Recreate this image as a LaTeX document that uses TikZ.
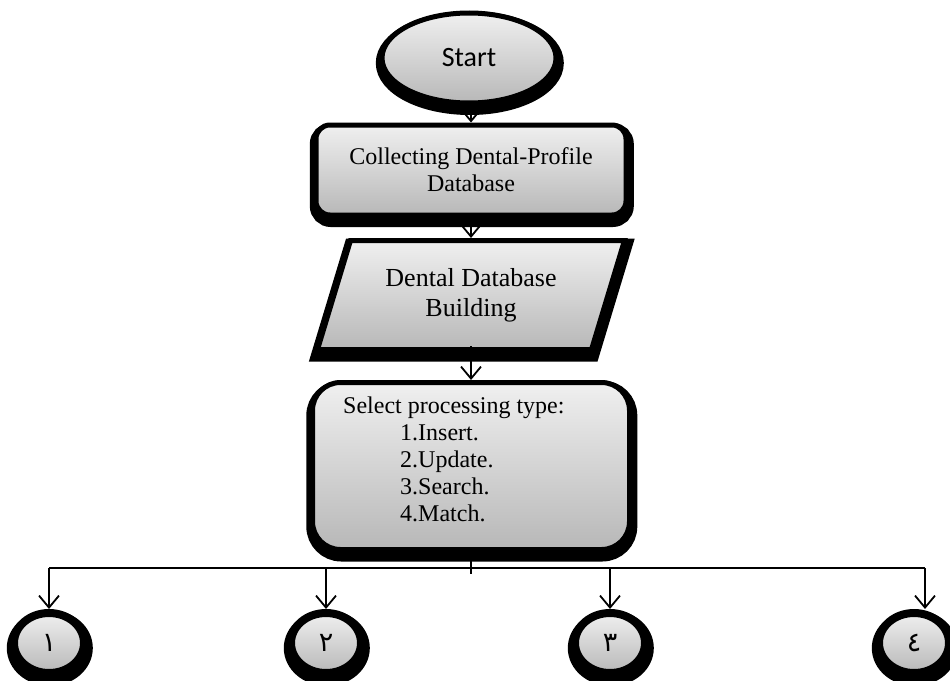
\documentclass[tikz,border=0pt]{standalone}
\usepackage{fontspec}
\setmainfont{Liberation Serif}
\newfontfamily\startfont{Carlito}
\newfontfamily\digitfont[Script=Arabic]{DejaVu Sans}
\usetikzlibrary{shapes.geometric,arrows.meta,backgrounds}
\begin{document}
\begin{tikzpicture}[x=1pt,y=-1pt,
  shade3d/.style={top color=black!6, bottom color=black!28},
  shadowed/.style={preaction={draw=black, fill=black, line width=#1,
      transform canvas={shift={(0.8pt,-5pt)}}}},
  box/.style={draw=black, line width=5pt, shade3d, shadowed=14pt, inner sep=0pt},
  circ/.style={draw=black, line width=8pt, shade3d, shadowed=16pt, ellipse,
      minimum width=70pt, minimum height=60pt, inner sep=0pt,
      font=\digitfont\fontsize{27}{29}\selectfont},
  conn/.style={line width=1.8pt},
  arr/.style={line width=1.8pt, -{Straight Barb[length=12pt,width=20pt]}}]
\useasboundingbox (0,0) rectangle (950,680);

% shapes
\node[box, ellipse, minimum width=174pt, minimum height=90pt,
      font=\startfont\fontsize{28}{30}\selectfont] (start) at (469,58) {Start};
\node[box, rectangle, rounded corners=14pt, minimum width=310pt, minimum height=90pt,
      align=center, font=\fontsize{24}{27}\selectfont] (col) at (471,170)
      {Collecting Dental-Profile\\Database};
\node[box, trapezium, trapezium left angle=61.2, trapezium right angle=118.8,
      trapezium stretches body, minimum width=307pt, minimum height=109pt,
      font=\fontsize{26}{30}\selectfont] (db) at (471,295)
      {\raisebox{6pt}{\begin{tabular}{@{}c@{}}Dental Database\\Building\end{tabular}}};
\node[box, rectangle, rounded corners=28pt, minimum width=317pt, minimum height=167pt]
      (sel) at (471,466) {};
\node[anchor=north west, inner sep=0pt, align=left, font=\fontsize{24}{27}\selectfont]
      (seltext) at (343,397)
      {Select processing type:\\\hspace*{57pt}1.Insert.\\\hspace*{57pt}2.Update.\\\hspace*{57pt}3.Search.\\\hspace*{57pt}4.Match.};

\node[circ] (c1) at (49,643) {١};
\node[circ] (c2) at (326,643) {٢};
\node[circ] (c3) at (610,643) {٣};
\node[circ] (c4) at (914,643) {٤};

% connectors behind the shapes
\begin{scope}[on background layer]
  \draw[arr] (start.south -| col.north) -- (col.north);
  \draw[arr] (col.south) -- (db.north);
\end{scope}
\draw[arr] ([yshift=6pt]db.south) -- (sel.north);

% bus
\coordinate (b1) at (c1 |- 0,568);
\coordinate (b2) at (c2 |- 0,568);
\coordinate (b3) at (c3 |- 0,568);
\coordinate (b4) at (925,568);
\draw[conn] (sel.south) -- ++(0,22);
\draw[conn] (b1) -- (b4);
\draw[arr] (b1) -- (c1.north);
\draw[arr] (b2) -- (c2.north);
\draw[arr] (b3) -- (c3.north);
\draw[arr] (b4) -- (b4 |- c4.north);
\end{tikzpicture}
\end{document}
